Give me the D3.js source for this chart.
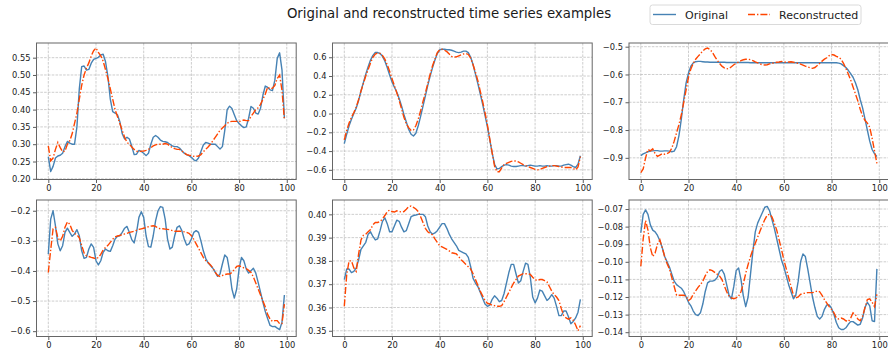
<!DOCTYPE html>
<html>
<head>
<meta charset="utf-8">
<script src="https://cdn.jsdelivr.net/npm/d3@7"></script>
<style>
  body { margin: 0; background: #fff; }
  svg { display: block; font-family: "DejaVu Sans", sans-serif; }
</style>
</head>
<body>
<svg id="chart" width="888" height="352"></svg>
<script>
// --- data -------------------------------------------------------------
const xTicks = [0, 20, 40, 60, 80, 100];

const orig1 = [0.264,0.221,0.236,0.26,0.266,0.268,0.274,0.293,0.308,0.303,0.30,0.30,0.35,0.46,0.524,0.526,0.514,0.516,0.534,0.545,
  0.548,0.551,0.558,0.56,0.538,0.495,0.43,0.394,0.39,0.385,0.365,0.33,0.315,0.32,0.315,0.294,0.27,0.271,0.282,0.279,
  0.274,0.267,0.274,0.30,0.32,0.325,0.32,0.312,0.308,0.307,0.305,0.30,0.295,0.293,0.293,0.289,0.281,0.274,0.27,0.267,
  0.262,0.255,0.252,0.26,0.279,0.298,0.305,0.303,0.30,0.30,0.30,0.293,0.286,0.293,0.34,0.40,0.41,0.403,0.385,0.368,
  0.36,0.353,0.348,0.35,0.375,0.409,0.404,0.39,0.387,0.404,0.442,0.468,0.464,0.457,0.455,0.485,0.548,0.564,0.514,0.375];
const recon1 = [0.295,0.252,0.26,0.285,0.305,0.29,0.278,0.28,0.30,0.31,0.33,0.36,0.39,0.43,0.47,0.50,0.52,0.535,0.555,0.57,
  0.578,0.565,0.555,0.54,0.515,0.49,0.46,0.43,0.40,0.38,0.36,0.34,0.32,0.305,0.30,0.292,0.285,0.28,0.278,0.28,
  0.28,0.282,0.285,0.29,0.295,0.298,0.30,0.30,0.30,0.302,0.30,0.295,0.29,0.287,0.285,0.285,0.28,0.275,0.27,0.268,
  0.267,0.265,0.265,0.266,0.27,0.278,0.285,0.292,0.30,0.31,0.32,0.33,0.34,0.347,0.353,0.36,0.365,0.366,0.366,0.366,
  0.365,0.368,0.37,0.368,0.368,0.38,0.39,0.40,0.405,0.415,0.43,0.445,0.465,0.46,0.462,0.47,0.49,0.50,0.455,0.37];

const orig2 = [-0.32,-0.22,-0.13,-0.06,0.0,0.06,0.14,0.24,0.33,0.42,0.50,0.57,0.62,0.65,0.65,0.64,0.61,0.56,0.49,0.41,
  0.34,0.28,0.23,0.16,0.08,-0.01,-0.09,-0.17,-0.22,-0.24,-0.21,-0.13,-0.03,0.08,0.19,0.30,0.40,0.49,0.57,0.64,
  0.68,0.685,0.685,0.68,0.68,0.675,0.665,0.655,0.65,0.655,0.665,0.665,0.65,0.60,0.52,0.42,0.32,0.21,0.10,-0.02,
  -0.14,-0.28,-0.42,-0.54,-0.59,-0.585,-0.565,-0.55,-0.545,-0.55,-0.56,-0.565,-0.565,-0.56,-0.555,-0.555,-0.56,-0.555,-0.55,-0.555,
  -0.56,-0.56,-0.555,-0.56,-0.56,-0.555,-0.56,-0.56,-0.555,-0.555,-0.56,-0.56,-0.55,-0.545,-0.54,-0.55,-0.565,-0.575,-0.54,-0.45];
const recon2 = [-0.28,-0.18,-0.10,-0.04,0.01,0.07,0.15,0.24,0.32,0.40,0.47,0.54,0.60,0.635,0.645,0.64,0.62,0.58,0.52,0.45,
  0.37,0.30,0.22,0.14,0.05,-0.04,-0.11,-0.15,-0.18,-0.175,-0.13,-0.06,0.03,0.13,0.22,0.32,0.42,0.51,0.58,0.65,
  0.68,0.685,0.675,0.66,0.635,0.61,0.60,0.605,0.615,0.625,0.635,0.64,0.63,0.59,0.52,0.44,0.35,0.24,0.13,0.01,
  -0.12,-0.27,-0.42,-0.56,-0.62,-0.62,-0.58,-0.545,-0.53,-0.52,-0.51,-0.505,-0.505,-0.515,-0.53,-0.545,-0.555,-0.565,-0.575,-0.585,
  -0.595,-0.60,-0.595,-0.585,-0.575,-0.565,-0.56,-0.555,-0.555,-0.56,-0.565,-0.57,-0.575,-0.575,-0.575,-0.575,-0.585,-0.60,-0.57,-0.46];

const orig3 = [-0.892,-0.886,-0.882,-0.878,-0.876,-0.875,-0.874,-0.874,-0.876,-0.876,-0.875,-0.875,-0.876,-0.878,-0.876,-0.86,-0.82,-0.76,-0.69,-0.63,
  -0.595,-0.57,-0.558,-0.554,-0.553,-0.553,-0.554,-0.555,-0.555,-0.556,-0.556,-0.556,-0.556,-0.556,-0.556,-0.556,-0.557,-0.557,-0.557,-0.557,
  -0.557,-0.557,-0.557,-0.557,-0.557,-0.557,-0.558,-0.558,-0.558,-0.558,-0.558,-0.558,-0.558,-0.558,-0.558,-0.558,-0.558,-0.558,-0.558,-0.558,
  -0.558,-0.558,-0.558,-0.558,-0.558,-0.558,-0.558,-0.558,-0.558,-0.558,-0.558,-0.558,-0.558,-0.558,-0.558,-0.558,-0.558,-0.558,-0.558,-0.558,
  -0.558,-0.558,-0.558,-0.559,-0.562,-0.568,-0.575,-0.585,-0.597,-0.61,-0.63,-0.655,-0.69,-0.72,-0.76,-0.80,-0.84,-0.87,-0.885,-0.895];
const recon3 = [-0.953,-0.94,-0.90,-0.87,-0.875,-0.868,-0.885,-0.895,-0.89,-0.885,-0.887,-0.885,-0.88,-0.865,-0.84,-0.81,-0.78,-0.745,-0.70,-0.655,
  -0.61,-0.58,-0.56,-0.545,-0.535,-0.525,-0.515,-0.508,-0.505,-0.51,-0.52,-0.535,-0.548,-0.56,-0.57,-0.576,-0.58,-0.578,-0.572,-0.565,
  -0.56,-0.555,-0.55,-0.547,-0.545,-0.545,-0.547,-0.55,-0.555,-0.558,-0.562,-0.565,-0.566,-0.565,-0.562,-0.56,-0.558,-0.556,-0.555,-0.553,
  -0.555,-0.556,-0.555,-0.554,-0.556,-0.558,-0.56,-0.563,-0.566,-0.57,-0.573,-0.576,-0.578,-0.575,-0.568,-0.56,-0.552,-0.545,-0.54,-0.532,
  -0.528,-0.53,-0.535,-0.538,-0.545,-0.56,-0.578,-0.598,-0.62,-0.645,-0.67,-0.695,-0.725,-0.75,-0.765,-0.775,-0.79,-0.83,-0.875,-0.92];

const orig4 = [-0.344,-0.228,-0.20,-0.25,-0.31,-0.333,-0.316,-0.272,-0.258,-0.272,-0.285,-0.277,-0.263,-0.283,-0.333,-0.358,-0.355,-0.327,-0.31,-0.322,
  -0.366,-0.38,-0.366,-0.338,-0.327,-0.333,-0.335,-0.316,-0.294,-0.285,-0.283,-0.272,-0.258,-0.252,-0.272,-0.296,-0.307,-0.272,-0.222,-0.203,
  -0.222,-0.283,-0.319,-0.321,-0.283,-0.233,-0.20,-0.186,-0.189,-0.228,-0.294,-0.327,-0.321,-0.283,-0.255,-0.25,-0.266,-0.294,-0.314,-0.31,
  -0.294,-0.272,-0.266,-0.272,-0.30,-0.333,-0.358,-0.373,-0.382,-0.391,-0.404,-0.418,-0.41,-0.377,-0.347,-0.355,-0.399,-0.46,-0.49,-0.46,
  -0.393,-0.355,-0.366,-0.393,-0.407,-0.399,-0.391,-0.407,-0.438,-0.471,-0.504,-0.535,-0.559,-0.581,-0.585,-0.584,-0.59,-0.595,-0.57,-0.48];
const recon4 = [-0.405,-0.33,-0.26,-0.255,-0.29,-0.30,-0.285,-0.255,-0.237,-0.245,-0.265,-0.275,-0.28,-0.29,-0.315,-0.34,-0.35,-0.352,-0.355,-0.357,
  -0.36,-0.355,-0.345,-0.33,-0.322,-0.315,-0.305,-0.295,-0.287,-0.284,-0.282,-0.28,-0.277,-0.275,-0.272,-0.27,-0.268,-0.265,-0.262,-0.26,
  -0.258,-0.256,-0.253,-0.251,-0.25,-0.252,-0.258,-0.26,-0.26,-0.261,-0.262,-0.263,-0.266,-0.268,-0.268,-0.268,-0.268,-0.27,-0.272,-0.275,
  -0.283,-0.295,-0.31,-0.325,-0.34,-0.355,-0.365,-0.372,-0.38,-0.39,-0.405,-0.415,-0.418,-0.415,-0.412,-0.41,-0.41,-0.405,-0.395,-0.385,
  -0.383,-0.386,-0.39,-0.392,-0.398,-0.405,-0.42,-0.44,-0.46,-0.48,-0.50,-0.52,-0.545,-0.56,-0.568,-0.565,-0.565,-0.575,-0.575,-0.51];

const orig5 = [0.372,0.3765,0.3765,0.375,0.3755,0.377,0.3805,0.385,0.3865,0.388,0.3915,0.3925,0.3905,0.389,0.3895,0.393,0.397,0.3985,0.396,0.3925,
  0.3925,0.395,0.3975,0.397,0.3945,0.3925,0.393,0.396,0.399,0.3995,0.3997,0.40,0.40,0.40,0.399,0.395,0.3925,0.3915,0.392,0.393,
  0.3945,0.396,0.396,0.394,0.3915,0.3895,0.388,0.3865,0.3845,0.384,0.3835,0.383,0.3815,0.3775,0.3725,0.3705,0.369,0.3665,0.364,0.3615,
  0.3605,0.361,0.3635,0.365,0.364,0.3625,0.363,0.366,0.3705,0.375,0.3785,0.3785,0.3745,0.3705,0.3715,0.3755,0.379,0.3785,0.373,0.3645,
  0.362,0.364,0.3675,0.367,0.365,0.363,0.364,0.3655,0.364,0.3605,0.3565,0.3565,0.3585,0.3585,0.356,0.353,0.354,0.3555,0.358,0.3635];
const recon5 = [0.3605,0.374,0.38,0.38,0.377,0.3755,0.383,0.389,0.391,0.3915,0.3925,0.3935,0.3955,0.3965,0.3965,0.397,0.398,0.3995,0.4012,0.4018,
  0.4012,0.401,0.4015,0.4012,0.401,0.4012,0.4022,0.4033,0.4036,0.403,0.4023,0.4012,0.399,0.3965,0.394,0.3925,0.3918,0.3912,0.3895,0.388,
  0.3865,0.386,0.3855,0.385,0.3843,0.3835,0.3833,0.383,0.3818,0.3805,0.3795,0.3785,0.3775,0.3765,0.3745,0.372,0.3695,0.367,0.365,0.363,
  0.3618,0.3615,0.361,0.3608,0.3605,0.3605,0.3608,0.3625,0.3645,0.3665,0.3685,0.3705,0.372,0.3735,0.374,0.3745,0.3745,0.3745,0.3742,0.373,
  0.372,0.3715,0.372,0.372,0.3715,0.371,0.369,0.367,0.3655,0.3645,0.363,0.3595,0.3565,0.3555,0.355,0.3555,0.3545,0.3525,0.350,0.3522];

const orig6 = [-0.0835,-0.073,-0.0705,-0.073,-0.079,-0.082,-0.083,-0.085,-0.088,-0.092,-0.097,-0.10,-0.103,-0.107,-0.111,-0.113,-0.114,-0.115,-0.117,-0.12,
  -0.123,-0.125,-0.128,-0.13,-0.1305,-0.129,-0.124,-0.117,-0.112,-0.111,-0.111,-0.1105,-0.109,-0.1055,-0.1045,-0.107,-0.113,-0.119,-0.121,-0.114,
  -0.105,-0.1035,-0.11,-0.1195,-0.1255,-0.12,-0.107,-0.094,-0.083,-0.078,-0.075,-0.072,-0.069,-0.0685,-0.071,-0.076,-0.081,-0.087,-0.093,-0.099,
  -0.103,-0.108,-0.113,-0.117,-0.121,-0.119,-0.111,-0.10,-0.0955,-0.097,-0.104,-0.112,-0.12,-0.126,-0.131,-0.1325,-0.131,-0.127,-0.1245,-0.1245,
  -0.1265,-0.13,-0.1345,-0.1375,-0.1385,-0.1385,-0.1375,-0.1355,-0.134,-0.134,-0.135,-0.136,-0.1355,-0.132,-0.126,-0.123,-0.125,-0.1335,-0.134,-0.104];
const recon6 = [-0.1025,-0.087,-0.0765,-0.082,-0.092,-0.097,-0.095,-0.09,-0.0875,-0.092,-0.097,-0.101,-0.104,-0.109,-0.114,-0.119,-0.119,-0.119,-0.119,-0.1195,
  -0.122,-0.121,-0.1185,-0.1165,-0.1145,-0.113,-0.111,-0.108,-0.1055,-0.1045,-0.105,-0.106,-0.107,-0.108,-0.11,-0.1135,-0.117,-0.1195,-0.1205,-0.121,
  -0.1205,-0.1195,-0.117,-0.1125,-0.1065,-0.1015,-0.097,-0.093,-0.0895,-0.086,-0.0825,-0.079,-0.076,-0.0735,-0.073,-0.0745,-0.078,-0.082,-0.0875,-0.093,
  -0.099,-0.104,-0.109,-0.114,-0.119,-0.1205,-0.12,-0.1185,-0.118,-0.1178,-0.1175,-0.1175,-0.1175,-0.1172,-0.1165,-0.117,-0.119,-0.1215,-0.1235,-0.1255,
  -0.127,-0.129,-0.132,-0.1325,-0.132,-0.1325,-0.1335,-0.134,-0.132,-0.129,-0.13,-0.1325,-0.1335,-0.131,-0.126,-0.1215,-0.121,-0.123,-0.1255,-0.1185];

const yTicks1 = [0.20, 0.25, 0.30, 0.35, 0.40, 0.45, 0.50, 0.55];
const yTicks2 = [-0.6, -0.4, -0.2, 0.0, 0.2, 0.4, 0.6];
const yTicks3 = [-0.9, -0.8, -0.7, -0.6, -0.5];
const yTicks4 = [-0.6, -0.5, -0.4, -0.3, -0.2];
const yTicks5 = [0.35, 0.36, 0.37, 0.38, 0.39, 0.40];
const yTicks6 = [-0.14, -0.13, -0.12, -0.11, -0.10, -0.09, -0.08, -0.07];

// axis limits (as shown in the figure)
const yLimits = [[0.198, 0.5924], [-0.703, 0.752], [-0.978, -0.4867],
                 [-0.6177, -0.1643], [0.34754, 0.40616], [-0.14245, -0.06487]];
const yDecimals = [2, 1, 1, 1, 2, 2];

const panels = [
  {orig: orig1, recon: recon1, ticks: yTicks1},
  {orig: orig2, recon: recon2, ticks: yTicks2},
  {orig: orig3, recon: recon3, ticks: yTicks3},
  {orig: orig4, recon: recon4, ticks: yTicks4},
  {orig: orig5, recon: recon5, ticks: yTicks5},
  {orig: orig6, recon: recon6, ticks: yTicks6}
];

// --- layout -----------------------------------------------------------
const colLeft = [36.5, 332.5, 629];
const rowTop = [43, 200];
const panelW = 259.7, panelH = 136.5;
const blue = '#4682b4', red = '#ff4500';

const svg = d3.select('#chart');

svg.append('text')
  .attr('x', 449).attr('y', 17.5)
  .attr('text-anchor', 'middle')
  .style('font-size', '13.3px')
  .style('fill', '#1a1a1a')
  .text('Original and reconstructed time series examples');

panels.forEach((p, i) => {
  const left = colLeft[i % 3], top = rowTop[Math.floor(i / 3)];
  const g = svg.append('g').attr('transform', 'translate(' + left + ',' + top + ')');

  const x = d3.scaleLinear().domain([-4.95, 103.95]).range([0, panelW]);
  const y = d3.scaleLinear().domain(yLimits[i]).range([panelH, 0]);
  const fmt = d3.format('.' + yDecimals[i] + 'f');

  // grid
  g.append('g').selectAll('line.gx').data(xTicks).enter().append('line')
    .attr('x1', d => x(d)).attr('x2', d => x(d))
    .attr('y1', 0).attr('y2', panelH)
    .attr('stroke', '#b8b8b8').attr('stroke-width', 0.7)
    .attr('stroke-dasharray', '2.6,1.2');
  g.append('g').selectAll('line.gy').data(p.ticks).enter().append('line')
    .attr('x1', 0).attr('x2', panelW)
    .attr('y1', d => y(d)).attr('y2', d => y(d))
    .attr('stroke', '#b8b8b8').attr('stroke-width', 0.7)
    .attr('stroke-dasharray', '2.6,1.2');

  const idx = d3.range(p.orig.length);
  const line = arr => d3.line().x(d => x(d)).y(d => y(arr[d]))(idx);

  g.append('path').attr('d', line(p.orig))
    .attr('fill', 'none').attr('stroke', blue).attr('stroke-width', 1.4)
    .attr('stroke-linejoin', 'round');
  g.append('path').attr('d', line(p.recon))
    .attr('fill', 'none').attr('stroke', red).attr('stroke-width', 1.4)
    .attr('stroke-dasharray', '7,2,1.4,2');

  const xAxis = g.append('g').attr('transform', 'translate(0,' + panelH + ')')
    .call(d3.axisBottom(x).tickValues(xTicks).tickSize(3.5).tickPadding(2.5).tickFormat(d3.format('d')));
  const yAxis = g.append('g')
    .call(d3.axisLeft(y).tickValues(p.ticks).tickSize(3.5).tickPadding(2.5).tickFormat(fmt));
  [xAxis, yAxis].forEach(a => {
    a.select('.domain').remove();
    a.selectAll('line').attr('stroke', '#333').attr('stroke-width', 0.8);
    a.selectAll('text').style('font-size', '8.3px').style('font-family', '"DejaVu Sans", sans-serif').attr('fill', '#222');
  });

  g.append('rect').attr('width', panelW).attr('height', panelH)
    .attr('fill', 'none').attr('stroke', '#666').attr('stroke-width', 1);
});

// legend
const lg = svg.append('g');
lg.append('rect').attr('x', 650).attr('y', 5).attr('width', 211).attr('height', 19.5)
  .attr('rx', 2.5).attr('fill', '#fff').attr('fill-opacity', 0.8)
  .attr('stroke', '#d0d0d0').attr('stroke-width', 0.8);
lg.append('line').attr('x1', 653).attr('x2', 676).attr('y1', 14.5).attr('y2', 14.5)
  .attr('stroke', blue).attr('stroke-width', 1.4);
lg.append('text').attr('x', 685).attr('y', 18.5).style('font-size', '11px').attr('fill', '#222').text('Original');
lg.append('line').attr('x1', 748).attr('x2', 770).attr('y1', 14.5).attr('y2', 14.5)
  .attr('stroke', red).attr('stroke-width', 1.4).attr('stroke-dasharray', '7,2,1.4,2');
lg.append('text').attr('x', 779).attr('y', 18.5).style('font-size', '11px').attr('fill', '#222').text('Reconstructed');
</script>
</body>
</html>
